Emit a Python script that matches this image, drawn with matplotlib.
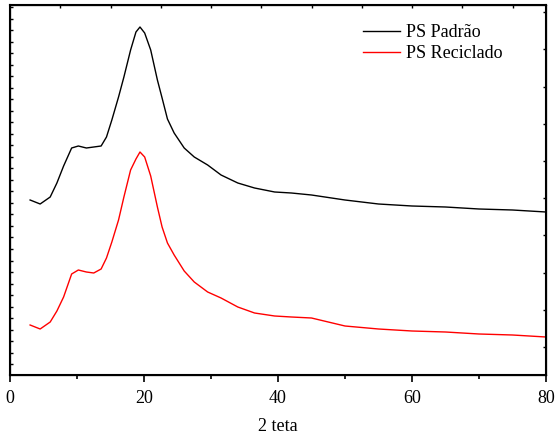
import matplotlib
matplotlib.use("Agg")
import matplotlib.pyplot as plt
import numpy as np

plt.rcParams['font.family'] = ['Liberation Serif', 'DejaVu Serif']

two_theta = [3, 4.5, 6, 7, 8, 9.2, 10.2, 11.4, 12.5, 13.6, 14.4, 15.2, 16.2, 17, 18,
             18.8, 19.4, 20.1, 21, 22, 22.7, 23.5, 24.5, 26, 27.5, 29.5, 31.5, 34,
             36.5, 39.5, 42, 45, 50, 55, 60, 65, 70, 75, 80]
ps_padrao = [175, 171, 178, 192, 209, 227, 229, 227, 228, 229, 238, 255, 278, 298, 325,
             343, 348, 342, 325, 295, 277, 256, 242, 227, 218, 210, 200, 192,
             187, 183, 182, 180, 175, 171, 169, 168, 166, 165, 163]
ps_reciclado = [50, 46, 53, 64, 78, 101, 105, 103, 102, 106, 117, 133, 155, 178, 205,
                216, 223, 218, 199, 168, 148, 132, 120, 104, 93, 83, 77, 68,
                62, 59, 58, 57, 49, 46, 44, 43, 41, 40, 38]

fig = plt.figure(figsize=(5.56, 4.36), dpi=100)
ax = fig.add_axes([10/556, 1-375/436, 536/556, 370/436])

ax.plot(two_theta, ps_padrao, color='black', lw=1.0, label='PS Padrão')
ax.plot(two_theta, ps_reciclado, color='red', lw=1.0, label='PS Reciclado')

ax.set_xlim(0, 80)
ax.set_ylim(0, 370)
ax.set_xticks([0, 20, 40, 60, 80])
ax.set_xticks([10, 30, 50, 70], minor=True)
ax.tick_params(axis='x', which='major', direction='out', length=5, width=1.2, labelsize=13, pad=6)
ax.tick_params(axis='x', which='minor', direction='out', length=3, width=1.2)
ax.set_yticks(np.arange(11, 370, 11.5))
ax.tick_params(axis='y', which='major', direction='in', length=2, width=1, labelleft=False)
ax.set_xlabel('2 teta', fontsize=13, labelpad=8)
for s in ax.spines.values():
    s.set_linewidth(1.5)

axt = ax.twiny()
axt.set_xlim(0, 80)
axt.set_xticks(np.arange(7.5, 80, 7.5))
axt.tick_params(axis='x', direction='in', length=2, width=1, labeltop=False)
axr = ax.twinx()
axr.set_ylim(0, 370)
axr.set_yticks(np.arange(28, 370, 37.2))
axr.tick_params(axis='y', direction='in', length=2, width=1, labelright=False)

ax.legend(loc='upper left', bbox_to_anchor=(356/556, 1-17/436), bbox_transform=fig.transFigure,
          frameon=False, fontsize=13, borderaxespad=0,
          handlelength=2.05, handletextpad=0.3, labelspacing=0.2)

fig.savefig('out.png', dpi=100)
